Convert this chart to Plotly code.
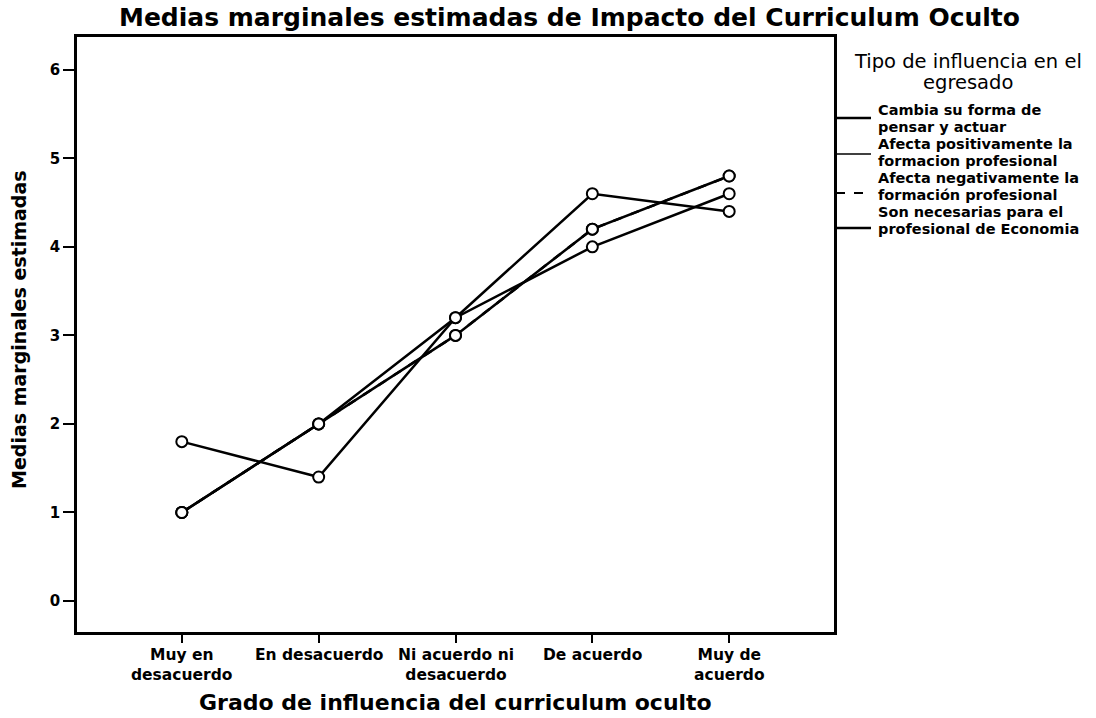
import plotly.graph_objects as go

# Categories on the x axis (grado de influencia)
categorias = ["Muy en<br>desacuerdo", "En desacuerdo", "Ni acuerdo ni<br>desacuerdo",
              "De acuerdo", "Muy de<br>acuerdo"]
y_ticks = [0, 1, 2, 3, 4, 5, 6]

# Series: estimated marginal means per type of influence
nombres = ["Cambia su forma de<br>pensar y actuar",
           "Afecta positivamente la<br>formacion profesional",
           "Afecta negativamente la<br>formación profesional",
           "Son necesarias para el<br>profesional de Economia"]
cambia = [1.0, 2.0, 3.2, 4.6, 4.4]
positiva = [1.8, 1.4, 3.2, 4.0, 4.6]
negativa = [1.0, 2.0, 3.0, 4.2, 4.8]
necesarias = [1.0, 2.0, 3.0, 4.2, 4.8]

W, H = 1096, 718
L, R, T, B = 77, 834, 37, 632  # plot area in pixels


def px_x(p):
    return (p - L) / (R - L)


def px_y(p):
    return (B - p) / (B - T)


BOLD = "DejaVu Sans"
series = [
    (nombres[2], negativa, "dash", 2.5),
    (nombres[1], positiva, "solid", 2.5),
    (nombres[0], cambia, "solid", 2.5),
    (nombres[3], necesarias, "solid", 2.5),
]

fig = go.Figure()
for name, vals, dash, w in series:
    fig.add_trace(go.Scatter(
        x=categorias, y=vals, name=name, mode="lines+markers",
        line=dict(color="black", width=w, dash=dash),
        marker=dict(symbol="circle", size=11, color="white",
                    line=dict(color="black", width=2)),
        showlegend=False,
    ))

shapes = []
annotations = []

# Category labels under the axis
for cat in categorias:
    annotations.append(dict(text=cat, xref="x", yref="paper", x=cat,
                            y=px_y(645), xanchor="center", yanchor="top",
                            showarrow=False, borderpad=0,
                            font=dict(family=BOLD, size=15.5, color="black", weight="bold")))

# Hand-built legend to the right of the frame
legend_styles = [
    (nombres[0], "solid", 2.5, 118, (110, 127)),
    (nombres[1], "solid", 1.5, 154, (144, 161)),
    (nombres[2], "dash", 2.0, 193, (178, 195)),
    (nombres[3], "solid", 2.5, 228, (212, 229)),
]
for name, dash, w, ly, (t1, t2) in legend_styles:
    shapes.append(dict(type="line", xref="paper", yref="paper",
                       x0=px_x(836), x1=px_x(871), y0=px_y(ly), y1=px_y(ly),
                       line=dict(color="black", width=w, dash=dash)))
    for txt, ty in zip(name.split("<br>"), (t1, t2)):
        annotations.append(dict(text=txt, xref="paper", yref="paper",
                                x=px_x(876), y=px_y(ty), xanchor="left", yanchor="middle",
                                showarrow=False,
                                font=dict(family=BOLD, size=14.5, color="black", weight="bold")))

for txt, ty in (("Tipo de influencia en el", 62), ("egresado", 83)):
    annotations.append(dict(text=txt, xref="paper", yref="paper",
                            x=px_x(968), y=px_y(ty), xanchor="center", yanchor="middle",
                            showarrow=False,
                            font=dict(family="DejaVu Sans", size=19.5, color="black")))

# Titles
annotations.append(dict(text="Medias marginales estimadas de Impacto del Curriculum Oculto",
                        xref="paper", yref="paper", x=px_x(569), y=px_y(18),
                        xanchor="center", yanchor="middle", showarrow=False,
                        font=dict(family=BOLD, size=25, color="black", weight="bold")))
annotations.append(dict(text="Grado de influencia del curriculum oculto",
                        xref="paper", yref="paper", x=px_x(455), y=px_y(702),
                        xanchor="center", yanchor="middle", showarrow=False,
                        font=dict(family=BOLD, size=22, color="black", weight="bold")))
annotations.append(dict(text="Medias marginales estimadas",
                        xref="paper", yref="paper", x=px_x(19), y=px_y(330),
                        xanchor="center", yanchor="middle", showarrow=False, textangle=-90,
                        font=dict(family=BOLD, size=19, color="black", weight="bold")))

fig.update_layout(
    width=W, height=H,
    margin=dict(l=L, r=W - R, t=T, b=H - B),
    paper_bgcolor="white", plot_bgcolor="white",
    shapes=shapes, annotations=annotations,
    showlegend=False,
)
fig.update_xaxes(
    type="category", range=[-0.766, 4.766],
    showgrid=False, zeroline=False, showticklabels=False,
    showline=True, linecolor="black", linewidth=2.5, mirror=True,
    ticks="outside", ticklen=8, tickwidth=2, tickcolor="black",
)
fig.update_yaxes(
    range=[-0.35, 6.37], tickvals=y_ticks,
    showgrid=False, zeroline=False,
    showline=True, linecolor="black", linewidth=2.5, mirror=True,
    ticks="outside", ticklen=11, tickwidth=2, tickcolor="black",
    tickfont=dict(family=BOLD, size=15, color="black", weight="bold"),
)

fig.write_html("out.html")
